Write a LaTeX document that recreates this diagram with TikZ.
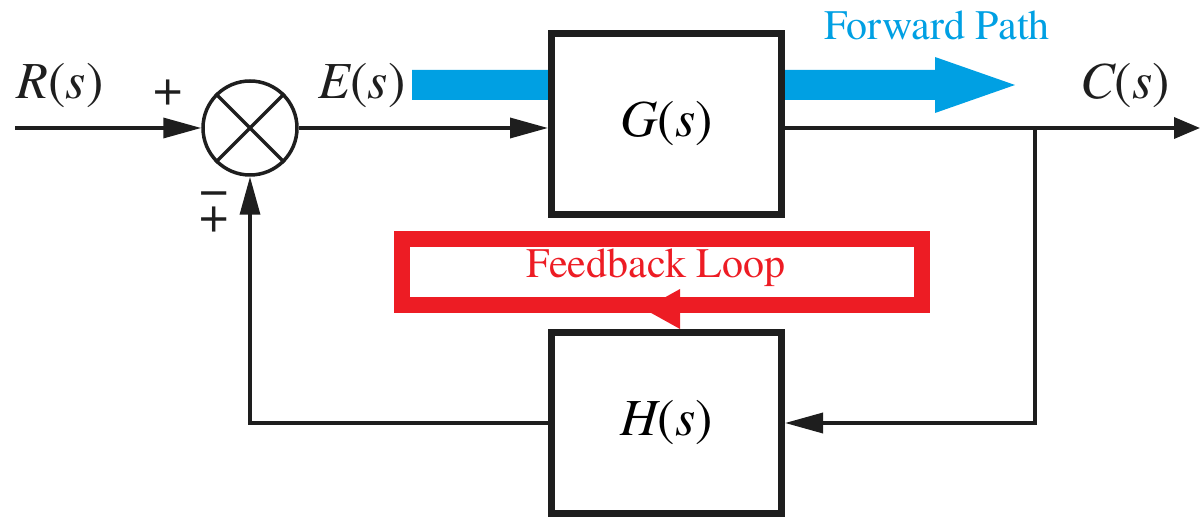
\documentclass[tikz,border=0pt]{standalone}
\usepackage{fontspec}
\setmainfont{texgyretermes}[Extension=.otf, UprightFont=*-regular, ItalicFont=*-italic, BoldFont=*-bold, BoldItalicFont=*-bolditalic]
\usetikzlibrary{arrows.meta}
\definecolor{fwdblue}{RGB}{0,160,227}
\definecolor{fbred}{RGB}{237,28,36}
\definecolor{ink}{RGB}{30,30,30}
\begin{document}
\begin{tikzpicture}[x=1pt,y=-1pt,
  blk/.style={draw=ink, line width=7pt, fill=white, minimum width=230pt, minimum height=181pt, inner sep=0pt, font=\fontsize{52}{56}\selectfont},
  sig/.style={line width=3.5pt, draw=ink},
  tip/.style={-{Triangle[length=38pt,width=20pt]}},
  lbl/.style={font=\fontsize{52}{56}\selectfont, inner sep=0pt, text=ink},
  captxt/.style={font=\fontsize{42}{46}\selectfont, inner sep=0pt},
]
\useasboundingbox (0,0) rectangle (1200,518);

% forward path highlight (behind G)
\fill[fwdblue] (412,70) -- (935,70) -- (935,57) -- (1015,85) -- (935,113) -- (935,100) -- (412,100) -- cycle;
\node[captxt, text=fwdblue] (fwd) at (937,25) {Forward Path};

% blocks
\node[blk] (G) at (666.5,124) {\itshape G\upshape(\itshape s\upshape)};
\node[blk] (H) at (666.5,423) {\itshape H\upshape(\itshape s\upshape)};

% summing junction
\node[circle, draw=ink, line width=3.5pt, minimum size=94pt, inner sep=0pt] (sum) at (250,128) {};
\draw[sig] (sum.north east) -- (sum.south west);
\draw[sig] (sum.north west) -- (sum.south east);

% signals
\coordinate (in) at (15,128);
\coordinate (out) at (1200,128);
\coordinate (br) at (1035,128);
\draw[sig,tip] (in) -- (sum.west);
\draw[sig,tip] (sum.east) -- (sum.east -| G.west);
\draw[sig,-{Triangle[length=26pt,width=21pt]}] (sum.east -| G.east) -- (out);
\draw[sig,tip] (br) |- (H.east);
\draw[sig,tip] (H.west) -| (sum.south);

% labels
\node[lbl] (R) at (60,86) {\itshape R\upshape(\itshape s\upshape)};
\node[lbl] (E) at (362,86) {\itshape E\upshape(\itshape s\upshape)};
\node[lbl] (C) at (1125,86) {\itshape C\upshape(\itshape s\upshape)};
\node[lbl] (plus) at (168,93) {+};
\node[inner sep=0pt, text=ink, align=center, font=\fontsize{52}{25}\selectfont] (mp) at (214,212) {−\\+};

% feedback loop highlight
\node[draw=fbred, line width=16pt, minimum width=520pt, minimum height=65.5pt, inner sep=0pt] (fb) at (662,272) {};
\node[captxt, text=fbred] (fbt) at (656,268) {Feedback Loop};
\fill[fbred] (644,309) -- (680,289) -- (680,329) -- cycle;
\end{tikzpicture}
\end{document}
